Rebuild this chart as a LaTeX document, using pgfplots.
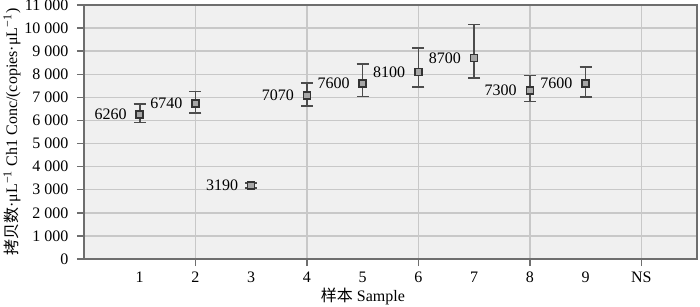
\documentclass[border=0pt]{standalone}
\usepackage{pgfplots}
\pgfplotsset{compat=1.18}
\usepackage{pgfplotstable}
\usepackage{fontspec}
\setmainfont{Liberation Serif}
\newfontfamily\cjk{Noto Sans CJK SC}
\definecolor{bg}{HTML}{F0F0F0}
\definecolor{gridc}{HTML}{C8C8C8}
\definecolor{axc}{HTML}{6E6E6E}

\pgfplotstableread{
x y ep em lab
1 6260 440 357 6260
2 6740 506 417 6740
3 3190 90 110 3190
4 7070 565 431 7070
5 7600 845 570 7600
6 8100 1025 664 8100
7 8700 1447 861 8700
8 7300 639 487 7300
9 7600 715 584 7600
}\data

\begin{document}
\fontsize{8}{9.6}\selectfont
\begin{tikzpicture}
\begin{axis}[
  scale only axis, width=306.5pt, height=127pt,
  xmin=0, xmax=11, ymin=0, ymax=11000,
  axis background/.style={fill=bg},
  axis line style={draw=axc, line width=0.9pt},
  ytick={0,1000,...,11000},
  ymajorgrids, xmajorgrids,
  grid style={draw=gridc, line width=0.7pt},
  tick align=outside, major tick length=3.5pt,
  ytick pos=left, xtick pos=bottom,
  tick style={draw=axc, line width=0.7pt},
  /pgf/number format/assume math mode=true,
  /pgf/number format/1000 sep={\ },
  scaled y ticks=false,
  yticklabel style={xshift=-1.5pt},
  xtick={2,4,6,8,10}, xticklabels={,,,,},
  extra x ticks={1,2,3,4,5,6,7,8,9,10},
  extra x tick labels={1,2,3,4,5,6,7,8,9,NS},
  extra x tick style={grid=none, xtick style={draw=none}},
  xlabel={{\cjk 样本} Sample},
  xlabel style={at={(axis description cs:0.455,0)}, anchor=center, yshift=-18.5pt},
  ylabel={{\cjk 拷贝数}·μL\textsuperscript{−1} Ch1 Conc/(copies·μL\textsuperscript{−1})},
  ylabel style={at={(axis description cs:-0.1175,0.5)}, anchor=center},
]
\addplot[only marks, mark=square*, mark size=1.75pt,
  mark options={fill=gray!70, draw=black!80, line width=0.8pt},
  error bars/.cd, y dir=both, y explicit,
  error bar style={line width=0.8pt, draw=black!70},
  error mark options={rotate=90, mark size=3pt, line width=0.8pt, draw=black!70}]
  table[x=x, y=y, y error plus=ep, y error minus=em]{\data};
\addplot[only marks, mark=none,
  nodes near coords, point meta=explicit symbolic,
  every node near coord/.append style={anchor=east, xshift=-3.7pt, text=black}]
  table[x=x, y=y, meta=lab]{\data};
\end{axis}
\pgfresetboundingbox
\path ([xshift=-42pt,yshift=-23.5pt]current axis.south west) rectangle ([xshift=1.5pt,yshift=2.5pt]current axis.north east);
\end{tikzpicture}
\end{document}
